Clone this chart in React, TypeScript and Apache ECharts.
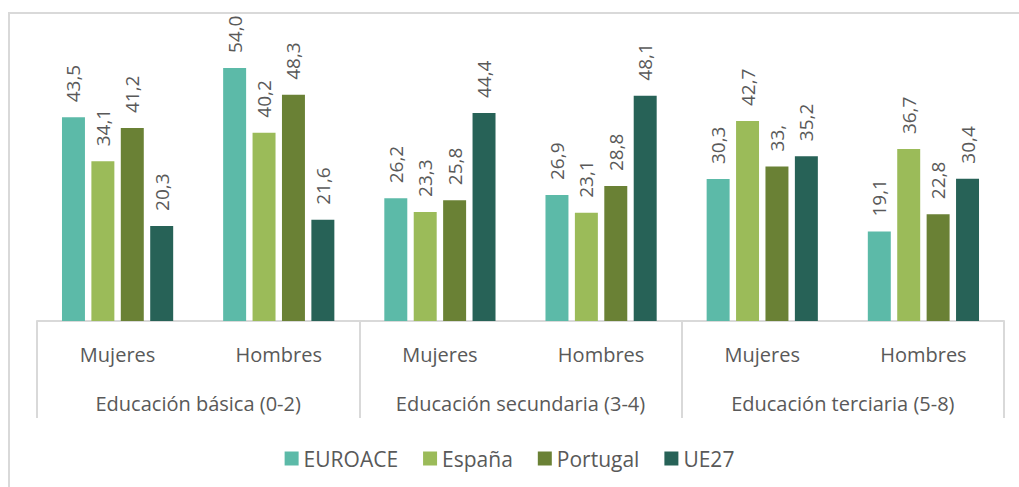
import React, { useEffect, useRef } from "react";
import * as echarts from "echarts";

const subCategories = ["Mujeres", "Hombres", "Mujeres", "Hombres", "Mujeres", "Hombres"];
const groups = ["Educación básica (0-2)", "Educación secundaria (3-4)", "Educación terciaria (5-8)"];
const seriesNames = ["EUROACE", "España", "Portugal", "UE27"];
const colors = ["#5cbaa8", "#9bbb59", "#6a8135", "#276257"];
const euroace = [43.5, 54.0, 26.2, 26.9, 30.3, 19.1];
const espana = [34.1, 40.2, 23.3, 23.1, 42.7, 36.7];
const portugal = [41.2, 48.3, 25.8, 28.8, 33.0, 22.8];
const ue27 = [20.3, 21.6, 44.4, 48.1, 35.2, 30.4];
const labelsPortugal = ["41,2", "48,3", "25,8", "28,8", "33,", "22,8"];

const FONT = "'Open Sans', 'Noto Sans', sans-serif";
const TEXT = "#595959";
const LINE = "#d9d9d9";

export default function App() {
  const ref = useRef<HTMLDivElement>(null);
  useEffect(() => {
    if (!ref.current) return;
    const chart = echarts.init(ref.current, null, { renderer: "svg" });
    const fmt = (v: number) => v.toFixed(1).replace(".", ",");
    const all = [euroace, espana, portugal, ue27];
    const series = all.map((d, i) => ({
      name: seriesNames[i],
      type: "bar",
      xAxisIndex: 0,
      data: d,
      itemStyle: { color: colors[i] },
      barGap: "28%",
      barCategoryGap: "31%",
      label: {
        show: true,
        position: "top",
        rotate: 90,
        align: "left",
        verticalAlign: "middle",
        distance: 15,
        color: TEXT,
        fontSize: 19,
        fontFamily: FONT,
        formatter: (p: any) => (i === 2 ? labelsPortugal[p.dataIndex] : fmt(p.value)),
      },
    }));
    chart.setOption({
      animation: false,
      color: colors,
      grid: { left: 37, right: 15, top: 40, bottom: 166 },
      legend: {
        top: 443,
        left: "center",
        itemWidth: 14,
        itemHeight: 14,
        itemGap: 25,
        icon: "rect",
        textStyle: { color: TEXT, fontSize: 21, fontFamily: FONT },
        data: seriesNames,
      },
      xAxis: [
        {
          type: "category",
          data: subCategories,
          position: "bottom",
          axisLine: { show: false },
          axisTick: { show: false },
          axisLabel: { color: TEXT, fontSize: 20, fontFamily: FONT, margin: 23, interval: 0 },
        },
        {
          type: "category",
          data: groups,
          position: "bottom",
          axisLine: { show: true, lineStyle: { color: LINE, width: 2 } },
          axisTick: { show: true, interval: 0, length: 97, lineStyle: { color: LINE, width: 2 } },
          axisLabel: { color: TEXT, fontSize: 20, fontFamily: FONT, margin: 72, interval: 0 },
        },
      ],
      yAxis: { type: "value", min: 0, max: 60, show: false, splitLine: { show: false } },
      graphic: [
        {
          type: "polyline",
          shape: { points: [[9, 487], [9, 13], [1019, 13]] },
          style: { stroke: LINE, lineWidth: 2, fill: "none" },
          silent: true,
        },
      ],
      series,
    });
    return () => chart.dispose();
  }, []);
  return (
    <div
      ref={ref}
      style={{ position: "absolute", left: 0, top: 0, width: 1019, height: 487, background: "#fff" }}
    />
  );
}
